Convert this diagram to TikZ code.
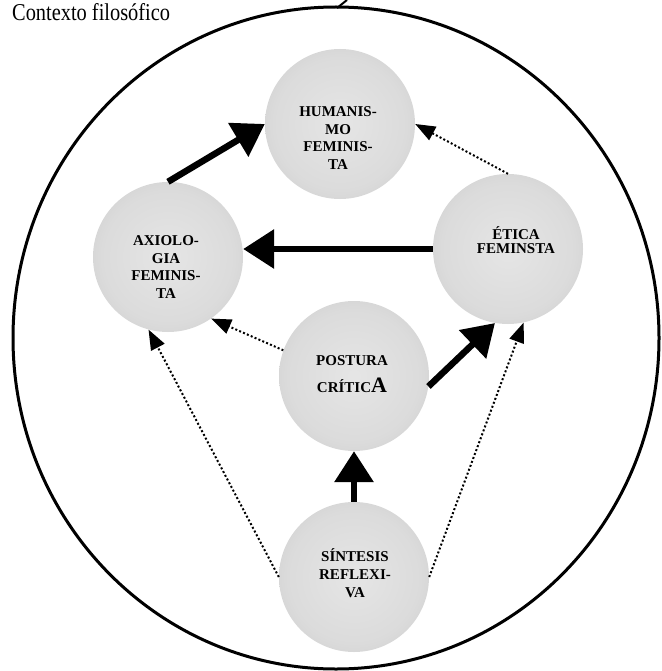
\documentclass[tikz,border=0pt]{standalone}
\usepackage{fontspec}
\setmainfont{Liberation Serif}
\usetikzlibrary{arrows.meta}
\pgfdeclareradialshading{halo}{\pgfpoint{0bp}{0bp}}{color(0bp)=(gray!20); color(22bp)=(gray!28); color(44bp)=(gray!50); color(50bp)=(gray!45); color(100bp)=(gray!45)}
\begin{document}
\begin{tikzpicture}[x=1pt,y=-1pt,
  concept/.style={circle, minimum size=150pt, inner sep=0pt, shade, shading=halo},
  ctext/.style={align=center, inner sep=0pt, font=\fontsize{15}{17.5}\selectfont\bfseries},
  bigarrow/.style={line width=6.5pt, -{Triangle[length=31pt,width=38pt]}},
  dotarrow/.style={line width=2pt, dash pattern=on 2pt off 2.2pt, -{Triangle[length=20pt,width=15pt]}},
  outer/.style={line width=3pt}]
\useasboundingbox (0,0) rectangle (661,671);
% outer circle
\draw[outer] (336,338) ellipse [x radius=323, y radius=331];
\coordinate (m1) at (337,8);
\coordinate (m2) at (347,0);
\draw[line width=2pt] (m1) -- (m2);
% title
\node[anchor=base west, inner sep=0pt, font=\fontsize{21}{24}\selectfont] (title) at (12,21) {\scalebox{0.97}[1.15]{Contexto filosófico}};
% concept circles
\node[concept] (hum) at (340,124) {};
\node[concept] (axio) at (168,257) {};
\node[concept] (etica) at (508,249) {};
\node[concept] (post) at (354,376) {};
\node[concept] (sint) at (354,577) {};
% texts
\node[ctext] (humT) at (338,138) {HUMANIS-\\MO\\FEMINIS-\\TA};
\node[ctext] (axioT) at (166,267) {AXIOLO-\\GIA\\FEMINIS-\\TA};
\node[ctext, font=\fontsize{15}{13.5}\selectfont\bfseries] (eticaT) at (516,240) {ÉTICA\\FEMINSTA};
\node[ctext, font=\fontsize{15}{27}\selectfont\bfseries] (postT) at (352,374) {POSTURA\\CRÍTIC{\fontsize{22}{22}\selectfont A}};
\node[ctext, font=\fontsize{15}{18}\selectfont\bfseries] (sintT) at (355,573) {SÍNTESIS\\REFLEXI-\\VA};
% connectors
\draw[bigarrow] (axio.north) -- (hum.west);
\draw[dotarrow] (etica.north) -- (hum.east);
\draw[bigarrow] (etica.west) -- (axio.east |- etica.west);
\draw[dotarrow] (post.160) -- (axio.-55);
\draw[bigarrow] (post.-8) -- (etica.-100);
\draw[bigarrow] (sint.north) -- (post.south);
\draw[dotarrow] (sint.west) -- (axio.-105);
\draw[dotarrow] (sint.east) -- (etica.-78);
\end{tikzpicture}
\end{document}
